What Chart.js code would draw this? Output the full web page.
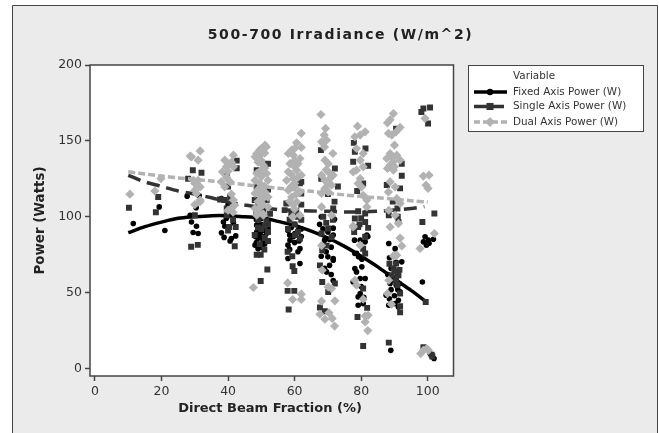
<!DOCTYPE html>
<html>
<head>
<meta charset="utf-8">
<title>500-700 Irradiance</title>
<script src="https://cdn.jsdelivr.net/npm/chart.js@4"></script>
<style>
html, body { margin: 0; padding: 0; background: #fff; }
#wrap { width: 659px; height: 433px; position: relative; }
</style>
</head>
<body>
<div id="wrap"><canvas id="chart"></canvas></div>
<script>
const chartTitle = '500-700 Irradiance (W/m^2)';
const xTitle = 'Direct Beam Fraction (%)';
const yTitle = 'Power (Watts)';
const legendTitle = 'Variable';
const xTicks = [0, 20, 40, 60, 80, 100];
const yTicks = [0, 50, 100, 150, 200];

// points, [direct beam %, watts]
const fixedPoints = [
  [11.5,95.6],[21,91],[19.3,106.5],[27.7,113.6],[31.3,114],[30.4,106],[28.6,101],[29,96.6],[30.5,93.8],[29.5,89.6],[31,89],
  [38.6,96.6],[39,93.8],[38,89.4],[38.8,86.4],[40.6,84],[41,85.7],[42.3,87.4],[41.6,96],[38,112],[40,108],[39.5,99],[41,101],
  [48.1,81.3],[49,85.9],[50.5,84.6],[49.6,89.2],[51.6,89.2],[48.6,90],[48.6,94.5],[50.5,91],[52,92.5],[49.6,88],[50,99],[48.5,83],[49,79],[50,80],[51,82],[49.5,86.5],[48.2,87],[51,87],[50,95],[52,97],[48.5,98],
  [58.6,84.6],[59.6,86.8],[58,81.3],[61.6,79],[61,77],[58,72.5],[61.6,69.2],[60.1,89],[58,91],[62,87],[60,95],[58.5,88],[59,93],[61,91],[58.5,78.5],[61.3,84],[60,83],[62,92],
  [70,73.6],[71.6,71.4],[69,66],[69.6,63.7],[68,74],[71.6,72.5],[69,84.6],[71.6,92.5],[71.6,88],[71.6,58],[72,98.4],[68,100],[70,90],[67.5,95],[71,80],[69.5,77],[70.5,68],[71,62],[68.5,92],[70.5,85],
  [78,84.6],[78.1,75.8],[79.2,73.6],[81.2,83.5],[81.7,87.9],[79.7,84.6],[78.1,65.9],[78.6,63.7],[80.2,67],[79.7,59.3],[81.2,59.3],[77.6,57],[79.7,49.4],[79.1,47.2],[79.1,41.7],[80.6,42.8],[82,87],[78,93],[78.6,55],[80,54],[80.8,47],[78.6,76],[80.2,72],
  [88.3,82.4],[90.2,79],[92.2,70.3],[88.7,56],[91.7,50.5],[87.5,48.3],[88.3,41.7],[90.2,42.8],[91.2,40.6],[91.2,45],[88.9,12],[89,66],[91,62],[89.5,60],[90.5,55],[89,52],[90,58],[91.5,56],[88,62],[90,48],[88.5,46],[91,52],[90.5,70],[88.5,73],
  [98.4,57],[99.2,86.8],[100.2,84.6],[98.7,83.5],[101.7,85.2],[99.6,81.3],[100.4,82.6],[101.1,8.8],[101.9,6.6],[100.7,9.9]
];
const singlePoints = [
  [10.2,105.9],[18.3,103],[19,113],[28.9,80.2],[30.9,81.5],[30,101],[29.4,130.7],[32,129],[28,125],
  [38.8,111],[40.6,113],[42.6,137],[39.6,128.5],[42.6,132],[37.6,111.4],[39.6,105.5],[40.3,93.3],[40,91],[42.3,93.3],[42,80.6],[39.6,101],[41,108],[40,120],[41.5,98],
  [51.8,65.3],[49.8,57.7],[48.6,75],[49.8,75],[50.9,78.4],[48.6,130.7],[52,135],[48.6,119.7],[51.6,111],[50.6,104.4],[52.6,102],[48,111],[49,98],[52,95],[50,92],[48,88],[51,86],[52,84],[49.5,82],[50,100],[51.5,97],[48.5,102],[49,108],[52,118],[52,90],[51,94],[49,93],
  [57.9,51.2],[59.9,51.2],[58.2,38.9],[57.9,76.9],[59.3,74],[59.4,67.4],[59.9,64.3],[61.6,85.7],[60.1,87.9],[62,123],[62,115.4],[57.5,108.8],[57,104.4],[61,100],[60,95],[58,92],[62,98],[60.6,135],[61.6,122],[59,102],[58.5,98],[60.5,104],[62,108],[61,90],
  [67.9,143.9],[72.1,131.8],[71.6,105.5],[68.6,100],[70.1,92.3],[71.1,86.7],[68.1,89],[67.6,68],[68.3,57],[72.1,56],[70.1,50.5],[67.6,40.2],[69.1,37.8],[68.3,78],[69.6,81],[70,115],[73,120],[68,125],[72,110],[69.5,96],[71.5,98],
  [77.8,148.7],[81.3,145],[78.1,142.8],[77.6,136.2],[82.1,133.6],[78.8,117],[80.6,122],[79.1,103.7],[81.2,102.2],[78.1,98.9],[81.2,96.6],[79.1,93.3],[82.1,92.7],[78.9,34],[80.6,14.9],[80.6,52.7],[81.8,40],[77.9,90],[81.2,86.8],[80.6,79],[81.2,75.8],[80,99],[79.5,95],
  [90.5,158],[92.2,135],[92.2,127],[87.7,121],[91.7,118.7],[90.9,105.5],[88.3,101],[91.2,96.6],[90.5,69.2],[89.7,66],[91.2,61.5],[89.1,61.5],[90.9,55],[91.7,49.4],[91.7,37],[91.7,41],[88.3,17.1],[99.4,43.9],[90,64],[90.5,58],[88.5,69],[91.5,65],[91,100],[89.5,110],
  [98.7,171.4],[100.7,172],[98.1,169],[100.1,161.5],[102,102.2],[98.4,96.6],[98.7,14],[101.4,8],[101.2,9.2]
];
const dualPoints = [
  [10.5,114.9],[18,117],[19.8,125.2],
  [28.6,140],[31.6,143.4],[31,137.3],[29,139.5],[29.6,124],[31.6,119.7],[30.5,115.3],[31.6,111],[30,108],[30,122],[31,124],[30,117.5],[31.6,110],
  [41.6,140.6],[39,137.3],[40,135],[41.6,132.9],[38.3,129.6],[38,123],[39,119.7],[40.6,123],[41.6,111],[41,105.5],[40,104.3],[42,107.6],[41,115],[39.5,133],[40,130],[41,136],[39.5,126],[41.5,103],
  [51.1,147.2],[50,145],[48.6,141.7],[48.1,139.5],[49.6,140.6],[50.6,134],[48.6,128.5],[50,126.3],[51.6,128.5],[48.1,124],[49.6,122],[52,124],[48.1,115.4],[49.6,114.2],[51,116.4],[52,113],[48.1,105.5],[49,103],[52,106.5],[50.6,101],[47.6,53.4],[48.6,101],[50.5,102],[50,137],[51,142],[49,136],[50,131],[51,132],[50,118],[50.5,112],[49,110],[50.5,108],[49.5,106],[51,120],[49,118],[50,128],[51.5,146],[49.5,144],
  [62,155],[60.6,148.7],[62,145.7],[59.1,143.9],[58.1,141.7],[61.6,138.4],[59.6,140.6],[58.6,135],[60.6,130.7],[58.1,129.6],[62,127.4],[59.6,125.2],[57.6,124],[60.1,119.7],[58.1,117.5],[61.6,116.4],[59.1,113],[60.6,109.8],[59.4,100],[61.6,101],[57.9,56.4],[62,49],[59.4,45.5],[62,45.5],[60,137],[60,133],[59,128],[61,126],[60,122],[59,120],[60.5,115],[59.5,108],[58.5,110],[60,105],[61,135],[60,145],
  [67.9,167.4],[69.3,158.2],[68.9,153.8],[69.6,150.5],[68.1,149.4],[71.5,141.7],[69.1,137.3],[70.1,135],[68.1,127.4],[70.1,129.6],[71.6,127.4],[69.1,124],[71.1,120.8],[69.1,118.7],[70.1,116.4],[68.1,115.4],[68.1,106.5],[71.1,101],[68.3,64.8],[68.1,44.4],[72.1,44.6],[70.1,53.8],[71.1,52.7],[67.6,35.8],[70.3,36.7],[69.1,32.5],[71.3,33],[72,28],[68.1,81],[69.5,131],[70.5,125],[70,122],[69,146],
  [78.9,159.7],[81.2,156],[79.7,153.8],[78.1,152.7],[78.6,145],[80.6,141.7],[79.7,137.3],[80.6,132.9],[78.6,130.7],[77.6,129.6],[79.7,125.2],[79.1,122],[80.1,119.7],[80.6,114.2],[81.7,111],[81.7,106.5],[77.6,93.3],[79.7,81.3],[78.1,58.2],[78.6,54.9],[80.6,45.7],[81.2,34.7],[82.1,35.1],[81.2,30.7],[82,25],[77.6,94],
  [89.7,168],[87.9,161.9],[88.7,164],[91.7,158.9],[90.5,156],[88.2,154.9],[89.2,153.8],[90,147.2],[88.7,141.7],[90.7,140.6],[87.7,138.4],[89.7,136.2],[91.7,137.3],[88.7,134],[87.9,131.8],[89.7,130.7],[88.7,123],[90.2,119.7],[88.2,116.4],[90.7,112],[91.7,108.8],[88.3,104.3],[90.2,101],[91.2,95.6],[88.7,93.3],[91.7,86],[92.2,80.8],[89.7,74.2],[90.7,74.7],[88.3,58.2],[87.9,49.4],[89.1,42.4],[89.5,139],[90,133],
  [99.2,164.8],[98.7,126.8],[100.4,127.4],[99.5,120.8],[100.1,118.7],[102,89],[97.7,79.1],[99.7,13.2],[98.7,12],[97.9,9.9],[100.2,12]
];

// smoothed fit lines
const fixedFitX = [10,15,20,25,30,35,40,45,50,55,60,65,70,75,80,85,90,95,99.5];
const fixedFitY = [89.5,93.5,96.5,99,100,100.7,100.7,100,99.3,97,94.3,90.5,86,80.5,74,67,59,51.5,44];
const singleFitX = [10,15,20,25,30,35,40,45,50,55,60,65,70,75,80,85,90,95,99];
const singleFitY = [127.3,123,120,117,115,112.5,109.8,107.8,106,104.8,104.2,103.8,103.6,103.2,103.2,103.6,104.4,105.5,106.7];
const dualFitX = [10,15,20,25,30,35,40,45,50,55,60,65,70,75,80,85,90,95,100];
const dualFitY = [129.7,128.2,126.8,125.6,124.6,123.6,122.4,121.2,120,118.8,117.8,116.8,115.6,114.4,113.4,112.5,111.6,110.6,109.7];

const black = '#000000';
const dark = '#333333';
const gray = '#b2b2b2';
const fontFamily = "'DejaVu Sans', Verdana, sans-serif";

function pts(list) {
  return list.map(p => ({ x: p[0], y: p[1] }));
}
function fit(xs, ys) {
  return xs.map((x, i) => ({ x: x, y: ys[i] }));
}
function markers(label, list, style, radius, color, order) {
  return {
    label: label, data: pts(list), order: order,
    pointStyle: style, pointRadius: radius, pointHoverRadius: radius,
    backgroundColor: color, borderColor: color, pointBorderWidth: 0
  };
}
function fitLine(list, color, dash, order) {
  return {
    data: list, order: order, showLine: true, pointRadius: 0,
    borderColor: color, borderWidth: 3.5, borderDash: dash, tension: 0.3, fill: false
  };
}

const legendRows = [
  { label: 'Fixed Axis Power (W)', color: black, style: 'circle', radius: 3.2, dash: [], y: 92 },
  { label: 'Single Axis Power (W)', color: dark, style: 'rect', radius: 5, dash: [13, 4], y: 106.5 },
  { label: 'Dual Axis Power (W)', color: gray, style: 'rectRot', radius: 5, dash: [6, 3], y: 122 }
];

const framePlugin = {
  id: 'frame',
  beforeDraw: (chart) => {
    const ctx = chart.ctx;
    const a = chart.chartArea;
    ctx.save();
    ctx.fillStyle = '#ffffff';
    ctx.fillRect(0, 0, chart.width, chart.height);
    ctx.fillStyle = '#ebebeb';
    ctx.fillRect(12, 5, 646, 428);
    ctx.strokeStyle = '#444444';
    ctx.lineWidth = 1;
    ctx.beginPath();
    ctx.moveTo(12.5, 433);
    ctx.lineTo(12.5, 5.5);
    ctx.lineTo(657.5, 5.5);
    ctx.lineTo(657.5, 433);
    ctx.stroke();
    ctx.fillStyle = '#ffffff';
    ctx.fillRect(a.left, a.top, a.right - a.left, a.bottom - a.top);
    ctx.restore();
  },
  afterDraw: (chart) => {
    const ctx = chart.ctx;
    const a = chart.chartArea;
    ctx.save();
    ctx.strokeStyle = '#444444';
    ctx.lineWidth = 1.5;
    ctx.strokeRect(a.left, a.top, a.right - a.left, a.bottom - a.top);

    ctx.fillStyle = '#222222';
    ctx.textBaseline = 'middle';
    ctx.textAlign = 'center';
    ctx.font = 'bold 14px ' + fontFamily;
    ctx.letterSpacing = '1.6px';
    ctx.fillText(chartTitle, 340.5, 35);
    ctx.letterSpacing = '0px';
    ctx.font = 'bold 13px ' + fontFamily;
    ctx.fillText(xTitle, 270, 409);

    // legend box
    ctx.fillStyle = '#ffffff';
    ctx.fillRect(468.5, 65.5, 175, 66);
    ctx.strokeStyle = '#444444';
    ctx.lineWidth = 1;
    ctx.strokeRect(468.5, 65.5, 175, 66);
    ctx.textAlign = 'left';
    ctx.font = '10.4px ' + fontFamily;
    ctx.fillStyle = '#333333';
    ctx.fillText(legendTitle, 513, 76);
    legendRows.forEach(r => {
      ctx.fillStyle = '#333333';
      ctx.fillText(r.label, 513, r.y);
      ctx.strokeStyle = r.color;
      ctx.lineWidth = 3.5;
      ctx.setLineDash(r.dash);
      ctx.beginPath();
      ctx.moveTo(474, r.y);
      ctx.lineTo(507, r.y);
      ctx.stroke();
      ctx.setLineDash([]);
      ctx.fillStyle = r.color;
      ctx.lineWidth = 0;
      Chart.helpers.drawPoint(ctx, { pointStyle: r.style, radius: r.radius, borderWidth: 0 }, 490, r.y);
    });
    ctx.restore();
  }
};

const axisFont = { family: fontFamily, size: 12.5 };
const titleFont = { family: fontFamily, size: 13.4, weight: 'bold' };

new Chart(document.getElementById('chart'), {
  type: 'scatter',
  data: {
    datasets: [
      markers('Fixed Axis Power (W)', fixedPoints, 'circle', 2.8, black, 6),
      fitLine(fit(fixedFitX, fixedFitY), black, [], 5),
      markers('Single Axis Power (W)', singlePoints, 'rect', 4.2, dark, 4),
      fitLine(fit(singleFitX, singleFitY), dark, [13, 7], 3),
      markers('Dual Axis Power (W)', dualPoints, 'rectRot', 4.6, gray, 2),
      fitLine(fit(dualFitX, dualFitY), gray, [7, 3], 1)
    ]
  },
  options: {
    animation: false,
    responsive: true,
    maintainAspectRatio: false,
    layout: { padding: { left: 0, right: 205.5, top: 65, bottom: 0 } },
    plugins: {
      legend: { display: false },
      title: { display: false },
      tooltip: { enabled: false }
    },
    scales: {
      x: {
        type: 'linear',
        min: -1.5,
        max: 107.75,
        afterBuildTicks: (s) => { s.ticks = xTicks.map(v => ({ value: v })); },
        afterFit: (s) => { s.height = 57; },
        border: { display: false },
        grid: { drawOnChartArea: false, tickLength: 5, tickColor: '#444444', tickWidth: 1.5 },
        ticks: { color: '#333333', font: axisFont, padding: 3, maxRotation: 0, autoSkip: false }
      },
      y: {
        type: 'linear',
        min: -4.9,
        max: 200,
        afterBuildTicks: (s) => { s.ticks = yTicks.map(v => ({ value: v })); },
        afterFit: (s) => { s.width = 90; },
        border: { display: false },
        grid: { drawOnChartArea: false, tickLength: 5, tickColor: '#444444', tickWidth: 1.5 },
        ticks: { color: '#333333', font: axisFont, padding: 3, autoSkip: false },
        title: { display: true, text: yTitle, color: '#222222', font: titleFont, padding: { top: 32, bottom: 0 } }
      }
    }
  },
  plugins: [framePlugin]
});
</script>
</body>
</html>
